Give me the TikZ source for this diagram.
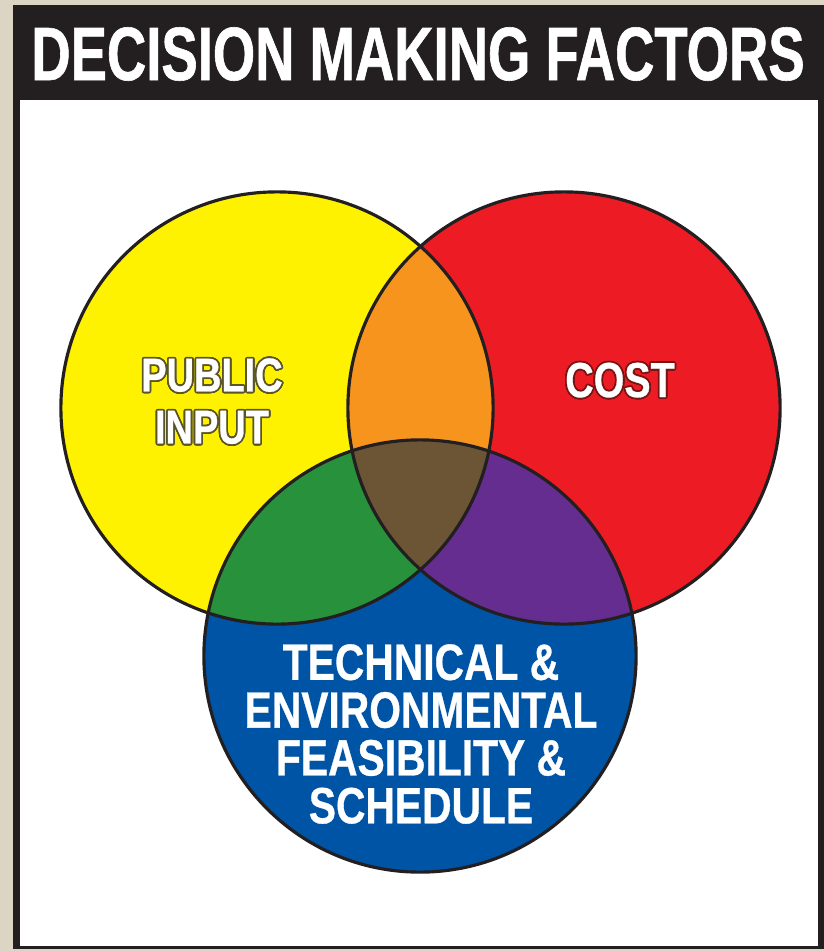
\documentclass[tikz,border=0pt]{standalone}
\usepackage{fontspec}
\usepackage[copies]{contour}
\usetikzlibrary{calc}
\newfontfamily\condfont[FakeStretch=0.8,FakeBold=0.6]{Liberation Sans Bold}
\newfontfamily\titlefont[FakeStretch=0.72,FakeBold=0.8]{Liberation Sans Bold}
\definecolor{bgbeige}{HTML}{DCD5C3}
\definecolor{frameblack}{HTML}{231F20}
\definecolor{vyellow}{HTML}{FFF200}
\definecolor{vred}{HTML}{ED1C24}
\definecolor{vblue}{HTML}{0054A6}
\definecolor{vorange}{HTML}{F7941D}
\definecolor{vgreen}{HTML}{27913B}
\definecolor{vpurple}{HTML}{662D91}
\definecolor{vbrown}{HTML}{6B5535}
\definecolor{oliveline}{HTML}{5A5526}
\definecolor{redline}{HTML}{7A1414}

\begin{document}
\begin{tikzpicture}[x=0.01cm,y=-0.01cm,
    ring/.style={draw=frameblack,line width=0.9pt},
    label/.style={text=white,align=center,inner sep=0pt}]
  \fill [bgbeige] (0,0) rectangle (824,951);
  \useasboundingbox (0,0) rectangle (824,951);
  \fill [frameblack] (13,5) rectangle (824,949);
  \fill [white] (20,100) rectangle (818,946);
  \node (title) at (418,54) [label,font=\titlefont\fontsize{21.5}{21.5}\selectfont] {DECISION MAKING FACTORS};
  % the three circles
  \coordinate (cy) at (277,408);
  \coordinate (cr) at (564,408);
  \coordinate (cb) at (420,656);
  \fill [vyellow] (cy) circle (2.16cm);
  \fill [vred] (cr) circle (2.16cm);
  \fill [vblue] (cb) circle (2.16cm);
  \begin{scope}
    \clip (cy) circle (2.16cm);
    \fill [vorange] (cr) circle (2.16cm);
    \fill [vgreen] (cb) circle (2.16cm);
  \end{scope}
  \begin{scope}
    \clip (cr) circle (2.16cm);
    \fill [vpurple] (cb) circle (2.16cm);
  \end{scope}
  \begin{scope}
    \clip (cy) circle (2.16cm);
    \clip (cr) circle (2.16cm);
    \fill [vbrown] (cb) circle (2.16cm);
  \end{scope}
  \draw [ring] (cy) circle (2.16cm);
  \draw [ring] (cr) circle (2.16cm);
  \draw [ring] (cb) circle (2.16cm);
  % labels
  \contourlength{0.5pt}
  \node (public) at (212,402) [label,font=\condfont\fontsize{13.5}{14.8}\selectfont]
    {\contour{oliveline}{PUBLIC}\\\contour{oliveline}{INPUT}};
  \node (cost) at (620,381) [label,font=\condfont\fontsize{14}{14}\selectfont]
    {\contour{redline}{COST}};
  \node (tech) at (421,734) [label,font=\condfont\fontsize{14.5}{13.6}\selectfont]
    {TECHNICAL \&\\ENVIRONMENTAL\\FEASIBILITY \&\\SCHEDULE};
\end{tikzpicture}
\end{document}
